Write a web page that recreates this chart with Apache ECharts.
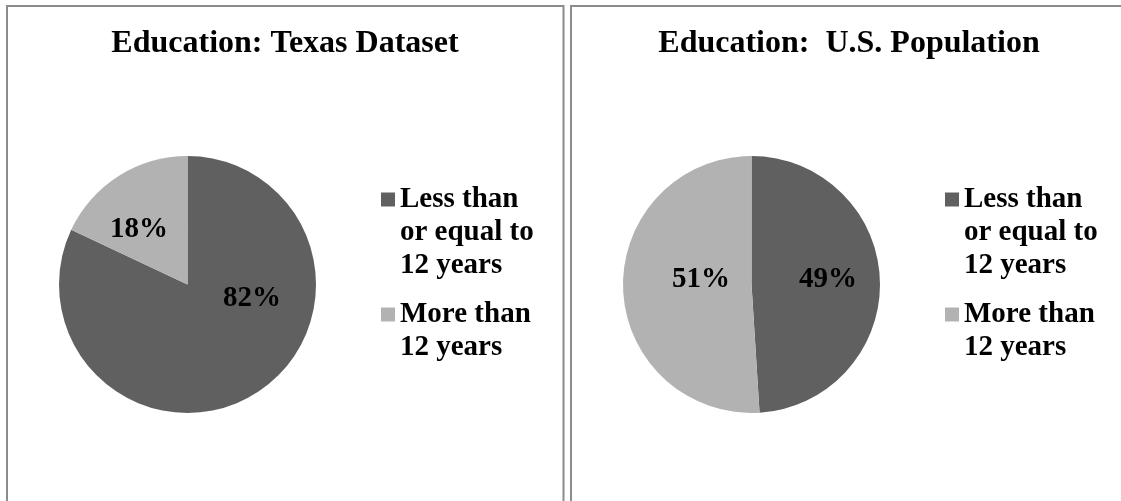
<!DOCTYPE html>
<html>
<head>
<meta charset="utf-8">
<script src="https://cdn.jsdelivr.net/npm/echarts@6/dist/echarts.min.js"></script>
<style>
  html, body { margin: 0; padding: 0; background: #fff; }
  #chart { width: 1121px; height: 501px; }
</style>
</head>
<body>
<div id="chart"></div>
<script>
var categories = ['Less than\nor equal to\n12 years', 'More than\n12 years'];
var titles = ['Education: Texas Dataset', 'Education:  U.S. Population'];
var texasValues = [82, 18];
var usValues = [49, 51];

var colors = ['#606060', '#b2b2b2'];
var font = '"Liberation Serif", "Times New Roman", serif';

// where each pie sits, and where the percent labels go relative to its centre
var pieCenters = [[187.5, 284.5], [751.5, 284.5]];
var labelOffsets = [
  [[64.5, 14.5], [-48.5, -54.5]],
  [[76.5, -4.5], [-50.5, -4.5]]
];
var panelLeft = [7, 571];
var legendLeft = [381, 945];
var titleCenters = [285, 849];

function pieData(values) {
  return values.map(function (v, i) {
    return { name: categories[i], value: v, itemStyle: { color: colors[i] } };
  });
}

function makePie(idx, values) {
  return {
    type: 'pie',
    center: pieCenters[idx],
    radius: 128.5,
    startAngle: 90,
    clockwise: true,
    silent: true,
    animation: false,
    data: pieData(values),
    label: {
      show: true,
      position: 'inside',
      formatter: '{c}%',
      fontFamily: font,
      fontWeight: 'bold',
      fontSize: 29,
      color: '#000'
    },
    labelLine: { show: false },
    labelLayout: function (params) {
      var off = labelOffsets[idx][params.dataIndex];
      return {
        x: pieCenters[idx][0] + off[0],
        y: pieCenters[idx][1] + off[1],
        align: 'center',
        verticalAlign: 'middle'
      };
    }
  };
}

// legend text is centred on the marker, so pad the top with blank lines
// to put the first line of each entry next to its square
function legendText(name) {
  var n = name.split('\n').length;
  var pad = '';
  for (var i = 1; i < n; i++) {
    pad += '\n';
  }
  return pad + name;
}

function makeLegend(idx) {
  return {
    orient: 'vertical',
    left: legendLeft[idx],
    top: 117,
    padding: 0,
    icon: 'rect',
    itemWidth: 14,
    itemHeight: 14,
    itemGap: -17,
    selectedMode: false,
    data: categories,
    formatter: legendText,
    textStyle: {
      fontFamily: font,
      fontWeight: 'bold',
      fontSize: 29,
      lineHeight: 33,
      color: '#000'
    }
  };
}

function makeTitle(idx) {
  return {
    text: titles[idx],
    left: titleCenters[idx],
    top: 28,
    textAlign: 'center',
    padding: 0,
    textStyle: {
      fontFamily: font,
      fontWeight: 'bold',
      fontSize: 32,
      color: '#000'
    }
  };
}

var chart = echarts.init(document.getElementById('chart'));
chart.setOption({
  animation: false,
  backgroundColor: '#fff',
  title: [makeTitle(0), makeTitle(1)],
  legend: [makeLegend(0), makeLegend(1)],
  graphic: [
    {
      type: 'rect',
      shape: { x: panelLeft[0], y: 6, width: 556.5, height: 600 },
      style: { fill: 'none', stroke: '#8c8c8c', lineWidth: 2 },
      silent: true
    },
    {
      type: 'rect',
      shape: { x: panelLeft[1], y: 6, width: 600, height: 600 },
      style: { fill: 'none', stroke: '#8c8c8c', lineWidth: 2 },
      silent: true
    }
  ],
  series: [makePie(0, texasValues), makePie(1, usValues)]
});
</script>
</body>
</html>
